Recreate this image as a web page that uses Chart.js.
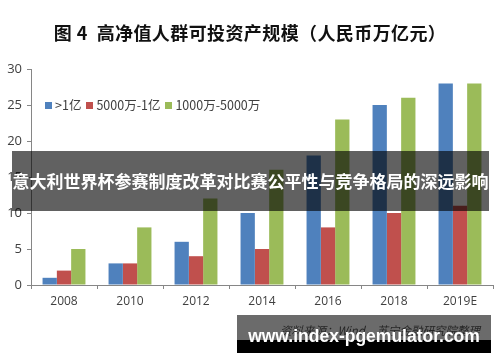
<!DOCTYPE html>
<html>
<head>
<meta charset="utf-8">
<script src="https://cdn.jsdelivr.net/npm/chart.js@4.4.1/dist/chart.umd.min.js"></script>
<style>
  html, body { margin: 0; padding: 0; background: #fff; }
  #wrap { position: relative; width: 500px; height: 362px; overflow: hidden; font-family: "Noto Sans CJK SC", "Noto Sans", sans-serif; }
  #chart { position: absolute; left: 0; top: 0; }
  #title { position: absolute; left: 0; width: 500px; top: 20px; text-align: center; font-size: 18px; font-weight: bold; color: #111; line-height: 24px; letter-spacing: 0.4px; }
  #legend { position: absolute; left: 45px; top: 96px; font-size: 12.5px; color: #404040; line-height: 17px; white-space: nowrap; }
  #legend span.box { display: inline-block; width: 7px; height: 7px; margin-right: 3px; vertical-align: 1px; }
  #legend span.item { margin-right: 5px; }
  #banner { position: absolute; left: 12px; top: 151px; width: 477px; height: 60px; background: rgba(0,0,0,0.62); color: #fff; font-size: 17px; font-weight: bold; line-height: 60px; text-align: center; white-space: nowrap; overflow: visible; }
  #source { position: absolute; left: 280px; top: 322px; font-size: 11.5px; font-style: italic; color: #595959; white-space: nowrap; }
  #wm1 { position: absolute; left: 237px; top: 315px; width: 254px; height: 25px; background: rgba(0,0,0,0.58); }
  #wm2 { position: absolute; left: 237px; top: 340px; width: 254px; height: 13px; background: #000; }
  #wmtext { position: absolute; left: 237px; top: 324px; width: 254px; text-align: center; color: #fff; font-family: "Liberation Sans", Arial, sans-serif; font-weight: bold; font-size: 17.5px; line-height: 24px; white-space: nowrap; }
</style>
</head>
<body>
<div id="wrap">
  <canvas id="chart" width="500" height="362"></canvas>
  <div id="title">图 4&nbsp; 高净值人群可投资产规模（人民币万亿元）</div>
  <div id="legend"></div>
  <div id="source">资料来源：Wind，苏宁金融研究院整理</div>
  <div id="banner">意大利世界杯参赛制度改革对比赛公平性与竞争格局的深远影响</div>
  <div id="wm1"></div>
  <div id="wm2"></div>
  <div id="wmtext">www.index-pgemulator.com</div>
</div>
<script>
// 数据
const years = ['2008', '2010', '2012', '2014', '2016', '2018', '2019E'];
const seriesNames = ['>1亿', '5000万-1亿', '1000万-5000万'];
const above1yi = [1, 3, 6, 10, 18, 25, 28];
const from5000wTo1yi = [2, 3, 4, 5, 8, 10, 11];
const from1000wTo5000w = [5, 8, 12, 16, 23, 26, 28];
const yTicks = [0, 5, 10, 15, 20, 25, 30];
const colors = ['#4F81BD', '#C0504D', '#9BBB59'];

const allSeries = [above1yi, from5000wTo1yi, from1000wTo5000w];

// legenda em HTML
const legend = document.getElementById('legend');
seriesNames.forEach((name, i) => {
    const item = document.createElement('span');
    item.className = 'item';
    item.innerHTML = '<span class="box" style="background:' + colors[i] + '"></span>' + name;
    legend.appendChild(item);
});

const axisColor = '#868686';

new Chart(document.getElementById('chart'), {
    type: 'bar',
    data: {
        labels: years,
        datasets: allSeries.map((vals, i) => ({
            label: seriesNames[i],
            data: vals,
            backgroundColor: colors[i],
            borderWidth: 0,
            categoryPercentage: 0.65,
            barPercentage: 1.0
        }))
    },
    options: {
        responsive: false,
        animation: false,
        layout: { padding: { top: 69, right: 7, bottom: 0, left: 0 } },
        plugins: {
            legend: { display: false },
            title: { display: false },
            tooltip: { enabled: false }
        },
        scales: {
            x: {
                afterFit: (s) => { s.height = 77; },
                grid: { display: true, drawOnChartArea: false, drawTicks: true, tickLength: 4, color: axisColor, offset: true },
                border: { display: true, color: axisColor, width: 1 },
                ticks: { color: '#404040', font: { family: 'Open Sans', size: 12 }, padding: 5, maxRotation: 0 }
            },
            y: {
                min: 0,
                max: 30,
                afterFit: (s) => { s.width = 31; },
                afterBuildTicks: (s) => { s.ticks = yTicks.map(v => ({ value: v })); },
                grid: { display: true, drawOnChartArea: false, drawTicks: true, tickLength: 4, color: axisColor },
                border: { display: true, color: axisColor, width: 1 },
                ticks: { color: '#404040', font: { family: 'Open Sans', size: 13 }, padding: 5 }
            }
        }
    }
});
</script>
</body>
</html>
